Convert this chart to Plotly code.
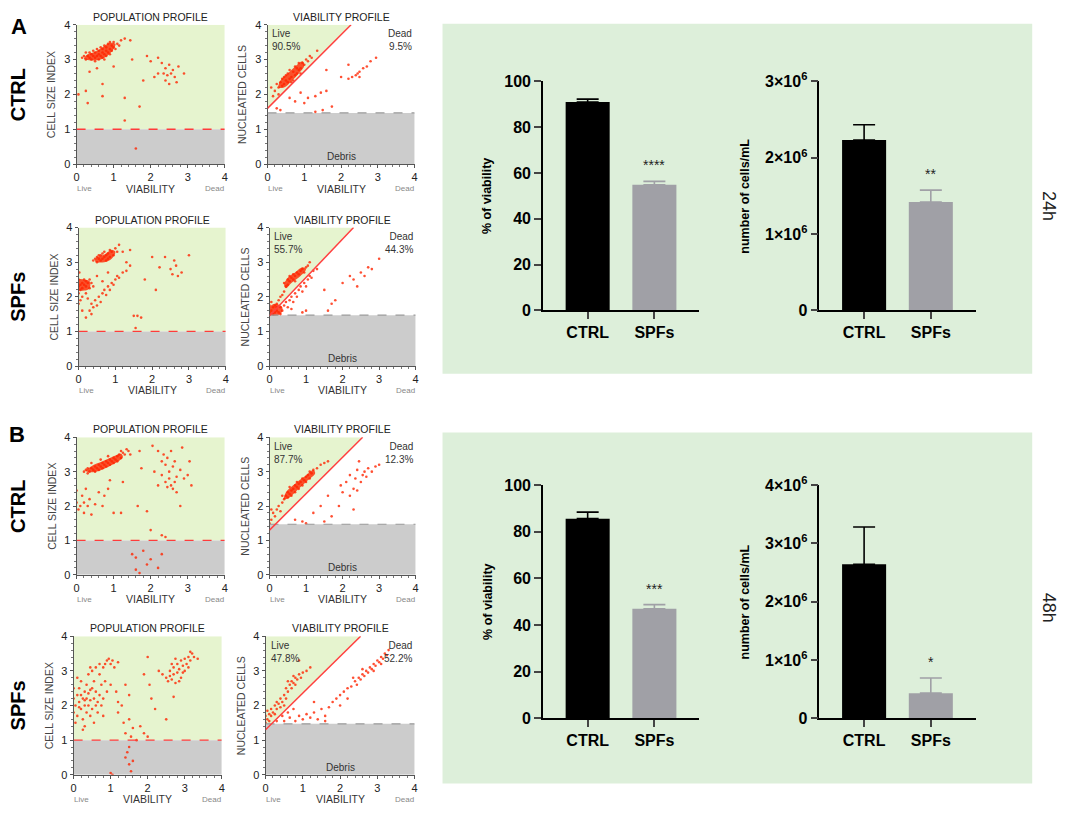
"""Profils de viabilite (Muse) et histogrammes CTRL / SPFs a 24h et 48h"""

import plotly.graph_objects as go

W, H = 1072, 814
FONT = "Liberation Sans, Arial, sans-serif"

# ---- donnees : profils de population (viabilite, taille) ----
a_ctrl_pop = [(0.15,3.05),(0.2,3.1),(0.25,3.0),(0.3,3.1),(0.35,3.05),(0.35,3.2),(0.4,3.0),(0.4,3.15),
    (0.45,3.1),(0.45,3.25),(0.5,3.05),(0.5,3.2),(0.55,3.1),(0.55,3.3),(0.6,3.0),(0.6,3.15),(0.6,3.25),
    (0.65,3.1),(0.65,3.35),(0.7,3.05),(0.7,3.2),(0.7,3.3),(0.75,3.15),(0.75,3.4),(0.8,3.1),(0.8,3.25),
    (0.8,3.35),(0.85,3.2),(0.85,3.45),(0.9,3.3),(0.9,3.15),(0.95,3.4),(0.95,3.25),(1.0,3.35),(1.0,3.5),
    (1.05,3.3),(1.1,3.45),(1.15,3.4),(1.2,3.55),(0.25,3.2),(0.5,2.95),(0.75,3.0),(0.9,3.5),(1.3,3.6),
    (1.45,3.55),(0.05,2.0),(0.25,2.1),(0.3,1.75),(0.35,2.65),(0.7,2.3),(0.7,1.95),(0.55,2.75),(1.0,2.8),
    (1.3,1.9),(1.3,1.25),(1.6,0.45),(1.7,1.65),(1.5,3.0),(1.9,3.1),(2.1,2.5),(2.2,3.05),(2.3,2.9),
    (2.35,2.6),(2.4,2.75),(2.4,2.4),(2.45,2.55),(2.5,2.3),(2.5,2.85),(2.55,2.6),(2.6,2.7),(2.65,2.5),
    (2.7,2.35),(2.9,2.6),(2.75,2.8),(2.2,2.6),(2.0,2.95),(1.8,2.4)]

a_spf_pop = [(0.4,3.05),(0.45,3.1),(0.5,3.0),(0.5,3.15),(0.55,3.1),(0.6,3.05),(0.6,3.2),(0.65,3.1),
    (0.7,3.15),(0.7,3.3),(0.75,3.05),(0.75,3.2),(0.8,3.25),(0.85,3.15),(0.85,3.35),(0.9,3.3),(0.95,3.2),
    (1.0,3.4),(1.05,3.3),(1.1,3.5),(0.65,3.25),(0.8,3.1),(0.55,3.2),(0.0,2.3),(0.0,2.5),(0.0,2.1),
    (0.02,2.7),(0.05,2.35),(0.05,2.2),(0.1,2.4),(0.1,2.25),(0.15,2.35),(0.15,2.5),(0.2,2.3),(0.2,2.45),
    (0.25,2.4),(0.3,2.25),(0.3,2.5),(0.35,2.4),(0.4,2.3),(0.0,1.8),(0.05,1.9),(0.1,2.0),(0.2,2.1),
    (0.25,1.95),(0.3,1.6),(0.35,1.8),(0.35,1.5),(0.4,1.7),(0.45,1.9),(0.5,1.75),(0.55,2.0),(0.6,1.85),
    (0.65,2.1),(0.7,2.2),(0.75,2.05),(0.8,2.3),(0.85,2.2),(0.9,2.4),(0.95,2.35),(1.0,2.5),(1.05,2.6),
    (1.1,2.55),(1.2,2.7),(1.3,2.75),(1.4,2.9),(0.5,2.6),(0.65,2.45),(0.2,1.4),(0.1,1.6),(1.2,3.3),
    (1.4,3.35),(1.5,1.45),(1.6,1.45),(1.7,1.4),(1.55,1.1),(1.8,2.5),(2.0,3.15),(2.1,2.2),(2.2,2.85),
    (2.35,3.15),(2.5,2.8),(2.55,2.65),(2.65,2.9),(2.7,2.6),(2.8,2.7),(2.6,3.05),(3.0,3.2),(1.3,3.0),
    (0.8,2.7)]

b_ctrl_pop = [(0.2,3.0),(0.25,3.05),(0.3,3.1),(0.35,3.0),(0.4,3.1),(0.45,3.05),(0.5,3.15),(0.5,3.0),
    (0.55,3.1),(0.6,3.2),(0.6,3.05),(0.65,3.15),(0.7,3.25),(0.7,3.1),(0.75,3.2),(0.8,3.3),(0.8,3.15),
    (0.85,3.25),(0.9,3.35),(0.9,3.2),(0.95,3.3),(1.0,3.4),(1.0,3.25),(1.05,3.35),(1.1,3.45),(1.1,3.3),
    (1.15,3.5),(1.2,3.4),(1.25,3.55),(1.3,3.5),(1.35,3.65),(1.4,3.6),(0.4,3.25),(0.65,3.35),(0.85,3.45),
    (1.2,3.6),(0.3,2.95),(1.45,3.5),(0.0,2.1),(0.0,2.45),(0.05,1.9),(0.1,2.0),(0.15,2.3),(0.2,1.8),
    (0.2,2.1),(0.25,2.5),(0.3,2.0),(0.35,2.2),(0.4,1.75),(0.5,2.05),(0.6,2.4),(0.7,2.0),(0.75,2.3),
    (0.85,2.5),(1.0,1.8),(1.2,1.8),(1.25,2.7),(0.9,2.75),(1.65,2.0),(1.75,3.1),(1.7,3.6),(1.9,1.85),
    (2.05,3.75),(2.2,3.6),(2.3,3.3),(2.35,3.5),(2.4,3.2),(2.45,3.4),(2.5,3.0),(2.55,3.6),(2.6,3.15),
    (2.65,3.3),(2.7,2.85),(2.4,2.7),(2.45,2.55),(2.5,2.8),(2.55,2.6),(2.6,2.5),(2.65,2.7),(2.7,2.4),
    (2.8,3.05),(2.9,2.8),(3.0,2.9),(3.1,2.6),(2.2,2.6),(2.1,3.0),(2.3,2.9),(2.85,3.7),(3.05,3.3),
    (2.8,2.0),(2.0,1.3),(2.3,1.15),(2.4,1.1),(1.5,0.6),(1.6,0.5),(1.8,0.7),(1.9,0.3),(1.7,0.05),
    (2.0,0.45),(2.3,0.6),(2.2,0.2),(1.6,0.15)]

b_spf_pop = [(0.0,1.8),(0.0,2.2),(0.0,2.5),(0.05,1.5),(0.05,2.0),(0.1,2.3),(0.1,1.7),(0.15,2.1),
    (0.15,2.5),(0.2,1.9),(0.2,2.3),(0.2,2.7),(0.25,1.6),(0.25,2.2),(0.3,2.0),(0.3,2.4),(0.3,1.4),
    (0.35,1.8),(0.35,2.2),(0.35,2.6),(0.4,2.0),(0.4,2.35),(0.4,2.9),(0.45,1.7),(0.45,2.15),(0.5,2.5),
    (0.5,1.9),(0.5,3.0),(0.55,2.2),(0.55,2.7),(0.6,2.0),(0.6,2.4),(0.6,3.1),(0.65,2.1),(0.65,1.8),
    (0.7,2.3),(0.7,2.9),(0.7,3.2),(0.75,2.6),(0.75,2.0),(0.8,3.1),(0.8,2.2),(0.85,3.2),(0.85,2.7),
    (0.9,3.3),(0.9,2.4),(0.95,3.35),(1.0,3.2),(1.0,2.6),(1.05,3.3),(1.1,3.1),(1.15,2.4),(1.2,3.25),
    (0.25,1.3),(0.1,2.8),(0.45,3.1),(0.55,1.5),(0.8,1.7),(0.15,1.95),(0.3,2.15),(0.45,2.45),
    (1.2,1.8),(1.3,2.0),(1.35,1.5),(1.4,1.2),(1.5,1.6),(1.55,1.1),(1.6,1.35),(1.7,1.0),(1.8,1.4),
    (1.9,1.2),(2.0,1.1),(1.9,2.9),(2.0,3.4),(2.05,2.6),(2.1,2.2),(2.2,1.9),(1.5,2.3),(1.2,2.1),
    (2.3,3.0),(2.5,1.6),(1.4,2.6),(2.5,2.8),(2.55,2.7),(2.6,2.85),(2.6,3.0),(2.65,2.75),(2.7,2.9),
    (2.7,3.1),(2.75,2.65),(2.8,2.95),(2.8,3.2),(2.85,3.05),(2.9,3.3),(2.9,2.8),(2.95,3.15),(3.0,3.0),
    (3.0,3.35),(3.05,3.2),(3.1,3.1),(3.1,3.4),(3.15,3.3),(3.2,3.5),(3.25,3.4),(3.35,3.35),(2.65,3.2),
    (2.75,3.35),(2.85,2.7),(2.7,2.25),(2.4,2.9),(3.15,3.55),(2.95,2.95),(1.0,0.05),(1.05,0.0),
    (1.4,0.5),(1.5,0.3),(1.5,0.8),(1.55,0.1),(1.45,0.65),(1.6,0.4)]

# ---- donnees : profils de viabilite (viabilite, cellules nucleees) ----
a_ctrl_via = [(0.2,2.1),(0.25,2.3),(0.3,2.2),(0.35,2.35),(0.4,2.25),(0.4,2.45),(0.45,2.3),(0.5,2.4),
    (0.5,2.55),(0.55,2.35),(0.55,2.6),(0.6,2.45),(0.6,2.7),(0.65,2.5),(0.7,2.4),(0.7,2.65),(0.75,2.55),
    (0.75,2.8),(0.8,2.6),(0.8,2.75),(0.85,2.7),(0.85,2.9),(0.9,2.75),(0.95,2.9),(1.0,2.85),(1.05,3.0),
    (1.1,2.95),(1.15,3.1),(1.2,3.05),(0.3,2.0),(0.45,2.5),(0.65,2.35),(0.9,2.6),(0.15,1.95),(0.1,2.2),
    (1.35,3.25),(0.25,1.6),(0.35,1.55),(0.6,1.9),(0.75,1.8),(0.9,2.05),(1.0,1.75),(1.3,1.95),(1.5,1.55),
    (1.6,2.1),(1.75,1.65),(1.45,2.05),(1.1,1.9),(1.6,2.7),(2.0,2.5),(2.2,2.85),(2.2,2.45),(2.3,2.5),
    (2.4,2.55),(2.45,2.6),(2.5,2.5),(2.6,2.75),(2.7,2.8),(2.8,2.95),(2.95,3.05),(2.5,2.65),(1.3,1.5)]

a_spf_via = [(0.05,1.6),(0.1,1.7),(0.15,1.75),(0.2,1.8),(0.25,1.9),(0.3,2.0),(0.35,2.05),(0.4,2.15),
    (0.45,2.3),(0.5,2.35),(0.5,2.5),(0.55,2.45),(0.6,2.55),(0.65,2.5),(0.65,2.65),(0.7,2.6),(0.75,2.7),
    (0.8,2.65),(0.85,2.75),(0.9,2.8),(0.95,2.7),(1.0,2.85),(1.05,2.9),(1.1,3.0),(0.55,2.6),(0.4,2.4),
    (0.7,2.45),(0.0,1.55),(0.0,1.75),(0.05,1.85),(0.1,1.5),(0.15,1.55),(0.2,1.6),(0.25,1.55),(0.3,1.7),
    (0.35,1.6),(0.4,1.75),(0.45,1.85),(0.5,1.7),(0.55,1.9),(0.6,2.0),(0.65,1.85),(0.7,2.1),(0.75,2.0),
    (0.8,2.2),(0.85,2.3),(0.9,2.15),(0.95,2.4),(1.0,2.3),(1.05,2.5),(1.1,2.6),(1.15,2.55),(1.2,2.75),
    (1.3,2.8),(0.3,1.5),(0.6,1.65),(0.2,1.7),(1.6,1.6),(1.7,1.8),(1.8,1.9),(2.0,2.4),(2.2,2.6),
    (2.3,2.5),(2.5,2.7),(2.6,2.6),(2.7,2.85),(2.8,2.8),(3.0,3.1),(2.4,2.3),(1.5,2.2),(1.0,1.6),(0.9,1.55)]

b_ctrl_via = [(0.0,1.5),(0.05,1.6),(0.1,1.8),(0.15,1.7),(0.2,1.9),(0.25,2.0),(0.3,1.85),(0.35,2.1),
    (0.4,2.2),(0.45,2.3),(0.5,2.25),(0.5,2.4),(0.55,2.35),(0.6,2.45),(0.6,2.3),(0.65,2.5),(0.7,2.4),
    (0.7,2.6),(0.75,2.55),(0.8,2.65),(0.8,2.5),(0.85,2.7),(0.9,2.6),(0.9,2.8),(0.95,2.75),(1.0,2.85),
    (1.0,2.7),(1.05,2.9),(1.1,2.8),(1.1,3.0),(1.15,2.95),(1.2,3.05),(1.3,3.1),(1.4,3.2),(1.5,3.25),
    (1.6,3.3),(0.55,2.55),(0.75,2.7),(0.35,2.3),(0.05,1.9),(0.7,1.6),(1.0,1.5),(1.2,1.8),(1.4,2.0),
    (1.5,1.55),(1.7,1.7),(1.9,2.0),(2.0,2.4),(2.1,2.7),(2.2,2.9),(2.3,2.5),(2.35,2.8),(2.4,3.05),
    (2.5,2.7),(2.55,2.9),(2.6,3.0),(2.65,2.85),(2.7,3.1),(2.8,3.0),(2.9,3.15),(3.0,3.2),(2.45,3.3),
    (2.2,2.3),(1.95,2.6),(2.4,2.45),(2.3,1.9),(1.6,2.3),(0.9,1.55)]

b_spf_via = [(0.0,1.5),(0.0,1.7),(0.05,1.6),(0.05,1.85),(0.1,1.55),(0.1,1.75),(0.15,1.7),(0.15,1.9),
    (0.2,1.8),(0.25,1.75),(0.25,2.0),(0.3,1.9),(0.35,2.05),(0.4,1.95),(0.4,2.2),(0.45,2.1),(0.5,2.3),
    (0.55,2.2),(0.55,2.5),(0.6,2.4),(0.65,2.6),(0.7,2.5),(0.7,2.7),(0.75,2.65),(0.8,2.8),(0.85,2.75),
    (0.9,2.9),(0.95,2.8),(1.0,2.95),(1.1,3.0),(1.2,3.1),(0.6,2.7),(0.75,2.85),(0.5,2.0),(0.8,2.6),
    (0.3,2.1),(0.9,3.3),(0.3,1.55),(0.45,1.7),(0.5,1.55),(0.6,1.8),(0.65,1.65),(0.75,1.9),(0.8,1.55),
    (0.9,1.7),(1.0,1.6),(1.1,1.75),(1.2,1.65),(1.3,1.8),(1.4,1.6),(1.5,1.9),(1.6,1.7),(1.7,1.95),
    (1.8,2.1),(1.9,2.2),(2.0,2.0),(2.1,2.4),(2.2,2.5),(2.3,2.55),(2.4,2.7),(2.5,2.8),(2.55,2.75),
    (2.6,2.9),(2.65,2.85),(2.7,3.0),(2.75,2.95),(2.8,3.1),(2.85,3.05),(2.9,3.2),(2.95,3.15),(3.0,3.3),
    (3.05,3.25),(3.1,3.4),(3.15,3.35),(3.2,3.5),(3.25,3.45),(3.3,3.6),(2.45,2.6),(2.6,3.05),(2.9,3.0),
    (3.1,3.2),(1.3,2.1),(1.6,1.55),(2.0,2.3),(2.2,2.2),(2.35,2.8)]

# contours des zones les plus denses (nuage plein)
a_ctrl_pop_core = [[(0.2,3.02),(0.3,3.15),(0.5,3.22),(0.7,3.35),(0.9,3.48),(1.05,3.45),(1.0,3.3),
                    (0.85,3.12),(0.65,3.0),(0.45,2.97)]]
a_spf_pop_core = [[(0.45,3.02),(0.5,3.14),(0.7,3.22),(0.9,3.36),(1.0,3.3),(0.9,3.1),(0.7,3.0)],
                  [(0.0,2.2),(0.0,2.5),(0.15,2.5),(0.3,2.45),(0.3,2.25),(0.15,2.18)]]
b_ctrl_pop_core = [[(0.25,3.02),(0.4,3.16),(0.7,3.3),(1.0,3.45),(1.2,3.52),(1.25,3.42),(1.0,3.22),
                    (0.7,3.06),(0.45,2.98)]]
b_spf_pop_core = []
a_ctrl_via_core = [[(0.3,2.2),(0.35,2.4),(0.55,2.6),(0.75,2.8),(0.95,2.95),(1.0,2.82),(0.85,2.6),
                    (0.65,2.38),(0.45,2.2)]]
a_spf_via_core = [[(0.4,2.35),(0.5,2.55),(0.7,2.7),(0.9,2.85),(1.0,2.8),(0.85,2.6),(0.6,2.4),
                   (0.45,2.25)],
                  [(0.0,1.48),(0.0,1.7),(0.15,1.8),(0.35,1.7),(0.3,1.5)]]
b_ctrl_via_core = [[(0.4,2.2),(0.45,2.4),(0.7,2.65),(0.95,2.85),(1.2,3.05),(1.25,2.95),(1.0,2.7),
                    (0.75,2.45),(0.55,2.25)]]
b_spf_via_core = []

live_pct = ["90.5%", "55.7%", "87.7%", "47.8%"]
dead_pct = ["9.5%", "44.3%", "12.3%", "52.2%"]
gate_y0 = [1.6, 1.45, 1.3, 1.3]
gate_xtop = [2.27, 2.3, 2.55, 2.55]
debris_level = 1.47
row_labels = ["CTRL", "SPFs", "CTRL", "SPFs"]

# ---- donnees : histogrammes ----
groups = ["CTRL", "SPFs"]
viab_24h = [90.9, 54.8]
viab_24h_sem = [1.3, 1.5]
cells_24h = [2.23e6, 1.42e6]
cells_24h_sem = [0.2e6, 0.155e6]
viab_48h = [85.6, 46.9]
viab_48h_sem = [2.8, 1.8]
cells_48h = [2.64e6, 0.43e6]
cells_48h_sem = [0.64e6, 0.26e6]
# significativite SPFs vs CTRL, pour chaque histogramme
stars = ["****", "**", "***", "*"]


def xd(a, b):
    return [a / W, b / W]


def yd(top, bottom):
    return [1 - bottom / H, 1 - top / H]


def ptext(px, py, text, size, color="#222", angle=0):
    """annotation placee en pixels sur la page"""
    return dict(xref="paper", yref="paper", x=px / W, y=1 - py / H, text=text,
                xanchor="center", yanchor="middle", textangle=angle, showarrow=False,
                font=dict(size=size, color=color, family=FONT))


fig = go.Figure()
layout = dict(width=W, height=H, margin=dict(l=0, r=0, t=0, b=0),
              paper_bgcolor="white", plot_bgcolor="rgba(0,0,0,0)",
              showlegend=False, font=dict(family=FONT, color="#222"))
shapes = []
annots = []

# panneaux verts derriere les histogrammes
for top, bot in [(13, 372), (432, 792)]:
    shapes.append(dict(type="rect", xref="paper", yref="paper", x0=442 / W, x1=1035 / W,
                       y0=1 - bot / H, y1=1 - top / H, fillcolor="#ddefda", line_width=0,
                       layer="below"))

rows_px = [(14, 157), (222, 364), (437, 578), (641, 783)]
cols_px = [[(74, 223), (266, 414)], [(76, 224), (268, 415)],
           [(74, 223), (268, 415)], [(71, 220), (264, 414)]]
pop_sets = [a_ctrl_pop, a_spf_pop, b_ctrl_pop, b_spf_pop]
via_sets = [a_ctrl_via, a_spf_via, b_ctrl_via, b_spf_via]
pop_cores = [a_ctrl_pop_core, a_spf_pop_core, b_ctrl_pop_core, b_spf_pop_core]
via_cores = [a_ctrl_via_core, a_spf_via_core, b_ctrl_via_core, b_spf_via_core]

n = 0
for r, (top, bot) in enumerate(rows_px):
    for c, (left, right) in enumerate(cols_px[r]):
        n += 1
        xa, ya = f"x{n}", f"y{n}"
        key = "" if n == 1 else str(n)
        pts = pop_sets[r] if c == 0 else via_sets[r]
        cores = pop_cores[r] if c == 0 else via_cores[r]
        common = dict(range=[0, 4], showline=True, linecolor="#555", linewidth=1,
                      ticks="outside", ticklen=3, tickcolor="#555", showgrid=False,
                      zeroline=False, tickvals=[0, 1, 2, 3, 4],
                      tickfont=dict(size=11, color="#222", family=FONT),
                      minor=dict(ticks="outside", ticklen=2, dtick=0.2, tickcolor="#777"))
        layout["xaxis" + key] = dict(common, domain=xd(left, right), anchor=ya)
        layout["yaxis" + key] = dict(common, domain=yd(top, bot), anchor=xa)
        for core in cores:
            fig.add_trace(go.Scatter(x=[p[0] for p in core] + [core[0][0]],
                                     y=[p[1] for p in core] + [core[0][1]],
                                     mode="lines", fill="toself", line=dict(width=0),
                                     fillcolor="rgba(255,40,0,0.8)", xaxis=xa, yaxis=ya,
                                     hoverinfo="skip", line_shape="spline"))
        fig.add_trace(go.Scatter(x=[p[0] for p in pts], y=[p[1] for p in pts], mode="markers",
                                 xaxis=xa, yaxis=ya, hoverinfo="skip",
                                 marker=dict(size=2.6, color="#ff2400", opacity=0.8)))
        if c == 0:
            shapes.append(dict(type="rect", xref=xa, yref=ya, x0=0, x1=4, y0=1, y1=4,
                               fillcolor="#e6f4cf", line_width=0, layer="below"))
            shapes.append(dict(type="rect", xref=xa, yref=ya, x0=0, x1=4, y0=0, y1=1,
                               fillcolor="#cccccc", line_width=0, layer="below"))
            shapes.append(dict(type="line", xref=xa, yref=ya, x0=0, x1=4, y0=1, y1=1,
                               line=dict(color="#ff3b3b", width=1.3, dash="dash")))
            title, ytitle = "POPULATION PROFILE", "CELL SIZE INDEX"
        else:
            shapes.append(dict(type="path", xref=xa, yref=ya,
                               path=f"M 0 {gate_y0[r]} L 0 4 L {gate_xtop[r]} 4 Z",
                               fillcolor="#e6f4cf", line_width=0, layer="below"))
            shapes.append(dict(type="rect", xref=xa, yref=ya, x0=0, x1=4, y0=0,
                               y1=debris_level, fillcolor="#cccccc", line_width=0,
                               layer="below"))
            shapes.append(dict(type="line", xref=xa, yref=ya, x0=0, x1=4, y0=debris_level,
                               y1=debris_level, line=dict(color="#999", width=1.2, dash="dash")))
            shapes.append(dict(type="line", xref=xa, yref=ya, x0=0, x1=gate_xtop[r],
                               y0=gate_y0[r], y1=4, line=dict(color="#ff4040", width=1.5)))
            annots += [
                dict(xref=xa, yref=ya, x=2, y=0.22, text="Debris", showarrow=False,
                     font=dict(size=10, color="#333")),
                dict(xref=xa, yref=ya, x=0.08, y=3.95, xanchor="left", yanchor="top",
                     align="left", text="Live<br>" + live_pct[r], showarrow=False,
                     font=dict(size=10, color="#333")),
                dict(xref=xa, yref=ya, x=3.97, y=3.95, xanchor="right", yanchor="top",
                     align="right", text="Dead<br>" + dead_pct[r], showarrow=False,
                     font=dict(size=10, color="#333")),
            ]
            title, ytitle = "VIABILITY PROFILE", "NUCLEATED CELLS"
        mid = (left + right) / 2
        annots += [
            ptext(mid, top - 8, title, 10.5),
            ptext(left - 25, (top + bot) / 2, ytitle, 10.5, "#444", -90),
            ptext(mid, bot + 25, "VIABILITY", 10.5, "#333"),
            ptext(left + 8, bot + 25, "Live", 8, "#888"),
            ptext(right - 10, bot + 25, "Dead", 8, "#888"),
        ]
    annots.append(ptext(15, (top + bot) / 2, "<b>" + row_labels[r] + "</b>", 20, "black", -90))

# ---- histogrammes ----
bar_specs = [
    (viab_24h, viab_24h_sem, [0, 100], [0, 20, 40, 60, 80, 100], None,
     "% of viability", (543, 700), (72, 307), 487),
    (cells_24h, cells_24h_sem, [0, 3e6], [0, 1e6, 2e6, 3e6],
     ["0", "1×10<sup>6</sup>", "2×10<sup>6</sup>", "3×10<sup>6</sup>"],
     "number of cells/mL", (821, 978), (72, 307), 746),
    (viab_48h, viab_48h_sem, [0, 100], [0, 20, 40, 60, 80, 100], None,
     "% of viability", (543, 700), (486, 725), 487),
    (cells_48h, cells_48h_sem, [0, 4e6], [0, 1e6, 2e6, 3e6, 4e6],
     ["0", "1×10<sup>6</sup>", "2×10<sup>6</sup>", "3×10<sup>6</sup>", "4×10<sup>6</sup>"],
     "number of cells/mL", (821, 978), (486, 725), 746),
]
colors = ["black", "#a0a0a6"]
for k, (vals, sem, yr, tv, tt, ytitle, (left, right), (top, bot), ytx) in enumerate(bar_specs):
    n += 1
    xa, ya, key = f"x{n}", f"y{n}", str(n)
    for i in range(2):
        fig.add_trace(go.Bar(x=[i], y=[vals[i]], width=0.66, xaxis=xa, yaxis=ya,
                             marker=dict(color=colors[i], line_width=0),
                             error_y=dict(type="data", symmetric=False, array=[sem[i]],
                                          arrayminus=[0], color=colors[i], thickness=1.6,
                                          width=11)))
    annots.append(dict(xref=xa, yref=ya, x=1, y=vals[1] + sem[1], yshift=16,
                       text=stars[k], showarrow=False, font=dict(size=14, color="#222")))
    layout["xaxis" + key] = dict(domain=xd(left, right), anchor=ya, range=[-0.67, 1.67],
                                 tickvals=[0, 1], ticktext=groups, showline=True,
                                 linecolor="black", linewidth=1.6, ticks="outside",
                                 ticklen=7, tickwidth=1.6, showgrid=False, zeroline=False,
                                 tickfont=dict(size=16, color="black", weight="bold"))
    ax_y = dict(domain=yd(top, bot), anchor=xa, range=yr, tickvals=tv, showline=True,
                linecolor="black", linewidth=1.6, ticks="outside", ticklen=7, tickwidth=1.6,
                showgrid=False, zeroline=False,
                tickfont=dict(size=16, color="black", weight="bold"))
    if tt:
        ax_y["ticktext"] = tt
    layout["yaxis" + key] = ax_y
    annots.append(ptext(ytx, (top + bot) / 2, "<b>" + ytitle + "</b>", 12.5, "black", -90))

annots += [
    ptext(16, 16, "<b>A</b>", 22, "black"),
    ptext(14, 434, "<b>B</b>", 22, "black"),
    ptext(1052, 200, "24h", 18, "#222", 90),
    ptext(1052, 612, "48h", 18, "#222", 90),
]

layout["shapes"] = shapes
layout["annotations"] = annots
fig.update_layout(layout)
# la page html garde sinon une marge de 8 px autour de la figure
fig.write_html("out.html", config={"displayModeBar": False},
               post_script="document.body.style.margin = '0';")
